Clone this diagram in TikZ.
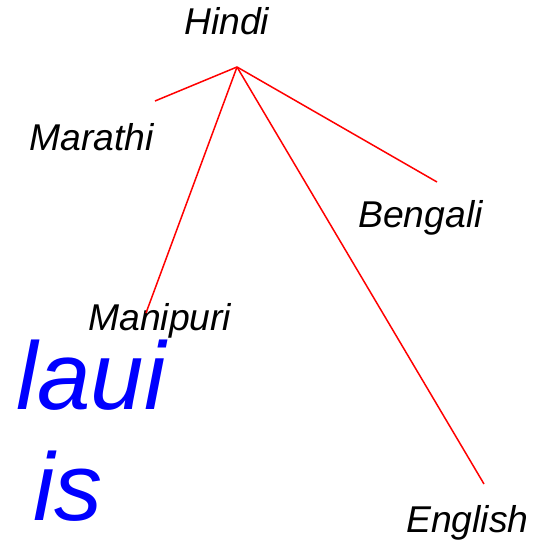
\documentclass[tikz,border=0pt]{standalone}
\usepackage{fontspec}
\setmainfont{Liberation Sans}
\begin{document}
\begin{tikzpicture}[x=1pt, y=-1pt]
    % Styles
    \tikzstyle{langlabel} = [anchor=base west, inner sep=0pt,
        font=\itshape\fontsize{37.3}{44}\selectfont]
    \tikzstyle{bigword} = [anchor=base west, inner sep=0pt, text=blue,
        font=\itshape\fontsize{96}{110}\selectfont]
    \tikzstyle{branch} = [red, line width=1.5pt]

    \useasboundingbox (0,0) rectangle (539,540);

    % === Labels ===
    \node [langlabel] (hindi) at (184,35) {Hindi};
    \node [langlabel] (marathi) at (29,150) {Marathi};
    \node [langlabel] (bengali) at (358,227) {Bengali};
    \node [langlabel] (manipuri) at (88,330) {Manipuri};
    \node [langlabel] (english) at (406,532) {English};

    % === Blue words ===
    \node [bigword] (laui) at (16,409) {laui};
    \node [bigword] (is) at (33,520) {is};

    % === Branch points ===
    \coordinate (hub) at (237,67);
    \coordinate (marathiend) at (155,101);
    \coordinate (bengaliend) at (437,182);
    \coordinate (manipuriend) at (146,313);
    \coordinate (englishend) at (484,484);

    % === Branches ===
    \draw [branch] (hub) -- (marathiend);
    \draw [branch] (hub) -- (bengaliend);
    \draw [branch] (hub) -- (manipuriend);
    \draw [branch] (hub) -- (englishend);
\end{tikzpicture}
\end{document}
